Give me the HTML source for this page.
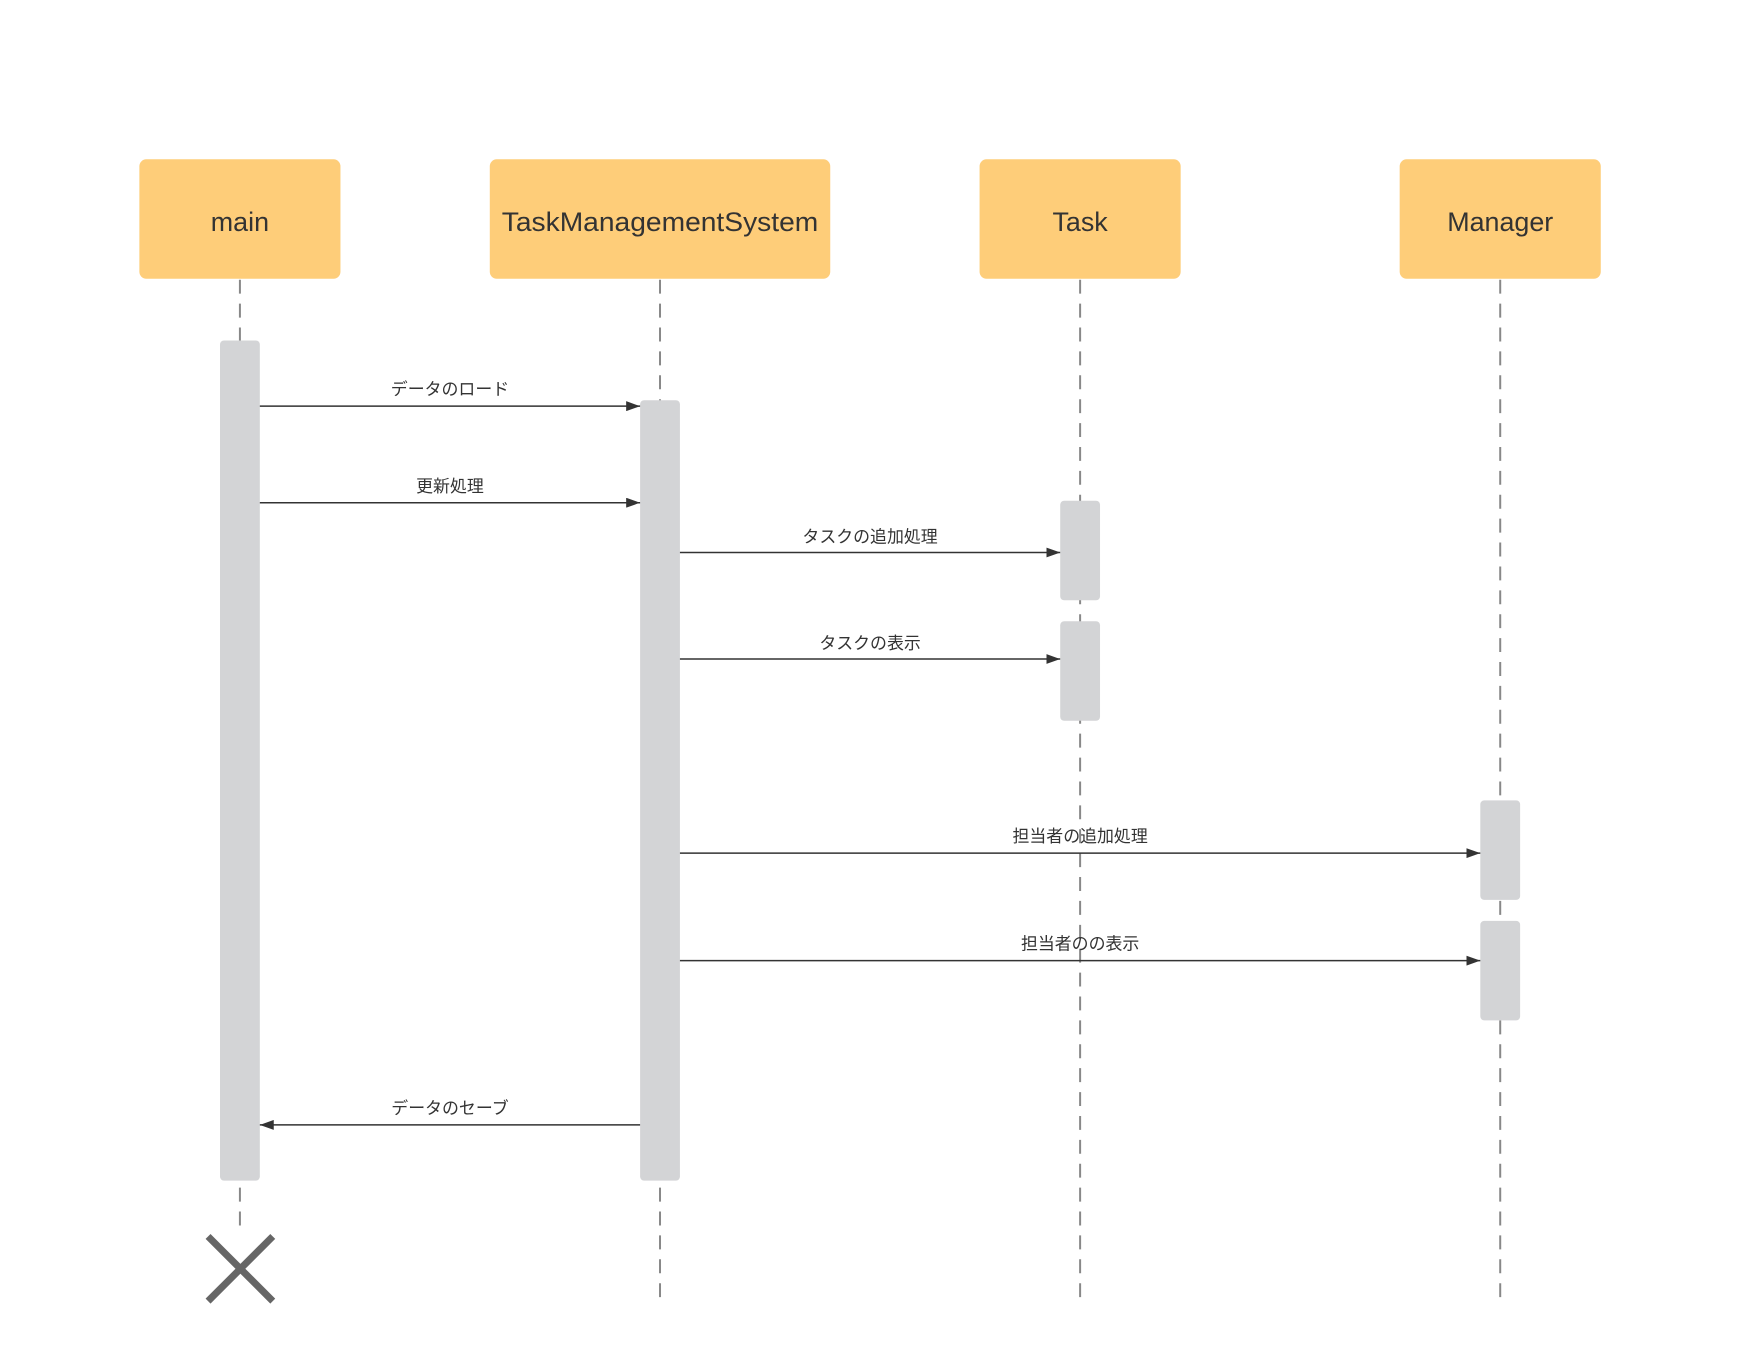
<!DOCTYPE html>
<html><head><meta charset="utf-8"><style>
html,body{margin:0;padding:0;background:#fff;}
</style></head><body>
<svg width="1760" height="1360" viewBox="0 0 1760 1360" xmlns="http://www.w3.org/2000/svg" font-family="'Liberation Sans','Noto Sans CJK JP',sans-serif">
<defs><marker id="a" markerWidth="14" markerHeight="10" refX="14" refY="5" orient="auto" markerUnits="userSpaceOnUse"><path d="M0,0 L14,5 L0,10 z" fill="#333"/></marker></defs>
<g transform="scale(0.9955)">
<g stroke="#888" stroke-width="2" stroke-dasharray="14,10">
<line x1="241" y1="281" x2="241" y2="1238"/>
<line x1="663" y1="281" x2="663" y2="1307"/>
<line x1="1085" y1="281" x2="1085" y2="1307"/>
<line x1="1507" y1="281" x2="1507" y2="1307"/>
</g>
<g fill="#fecd79">
<rect x="140" y="160" width="202" height="120" rx="7"/>
<rect x="492" y="160" width="342" height="120" rx="7"/>
<rect x="984" y="160" width="202" height="120" rx="7"/>
<rect x="1406" y="160" width="202" height="120" rx="7"/>
</g>
<g fill="#333" font-size="27" text-anchor="middle">
<text x="241" y="232">main</text>
<text x="663" y="232" textLength="318" lengthAdjust="spacingAndGlyphs">TaskManagementSystem</text>
<text x="1085" y="232">Task</text>
<text x="1507" y="232">Manager</text>
</g>
<g fill="#d3d4d6">
<rect x="221" y="342" width="40" height="844" rx="4"/>
<rect x="643" y="402" width="40" height="784" rx="4"/>
<rect x="1065" y="503" width="40" height="100" rx="4"/>
<rect x="1065" y="624" width="40" height="100" rx="4"/>
<rect x="1487" y="804" width="40" height="100" rx="4"/>
<rect x="1487" y="925" width="40" height="100" rx="4"/>
</g>
<g stroke="#333" stroke-width="1.5" marker-end="url(#a)">
<line x1="261" y1="408" x2="643" y2="408"/>
<line x1="261" y1="505" x2="643" y2="505"/>
<line x1="683" y1="555" x2="1065" y2="555"/>
<line x1="683" y1="662" x2="1065" y2="662"/>
<line x1="683" y1="857" x2="1487" y2="857"/>
<line x1="683" y1="965" x2="1487" y2="965"/>
<line x1="643" y1="1130" x2="261" y2="1130"/>
</g>
<g fill="#333" font-size="17" text-anchor="middle">
<text x="452" y="397">データのロード</text>
<text x="452" y="494">更新処理</text>
<text x="874" y="545">タスクの追加処理</text>
<text x="874" y="652">タスクの表示</text>
<text x="1085" y="846">担当者の追加処理</text>
<text x="1085" y="954">担当者のの表示</text>
<text x="452" y="1119">データのセーブ</text>
</g>
<g stroke="#666" stroke-width="7">
<line x1="209" y1="1242" x2="274" y2="1307"/>
<line x1="274" y1="1242" x2="209" y2="1307"/>
</g>
</g>
</svg>
</body></html>
